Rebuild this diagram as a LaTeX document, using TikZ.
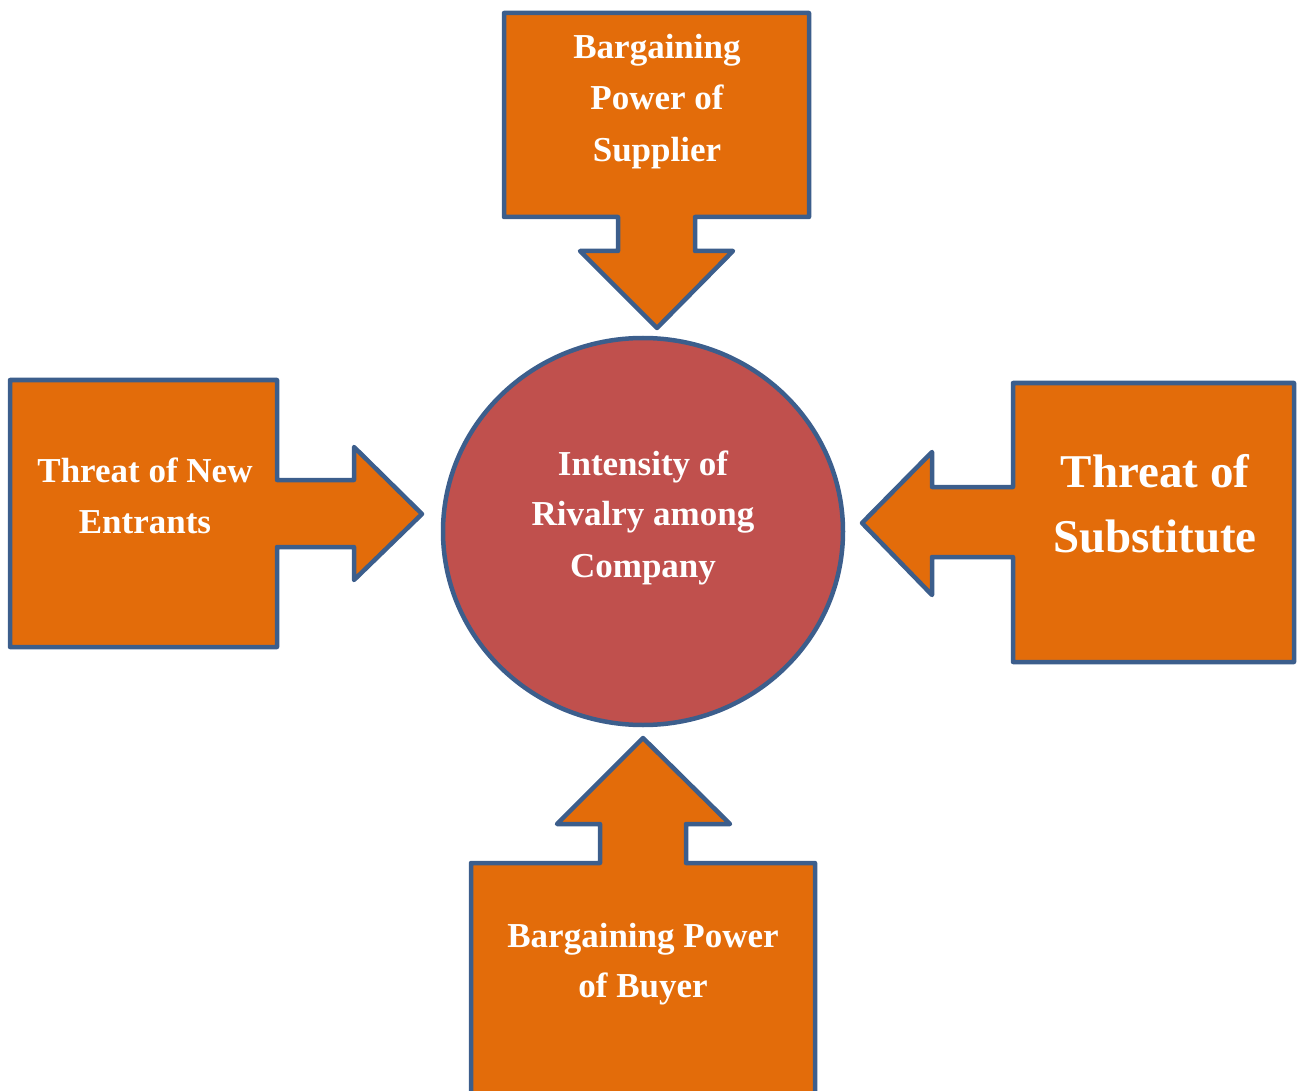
\documentclass[tikz,border=0pt]{standalone}
\usepackage{fontspec}
\setmainfont{Liberation Serif}
\usetikzlibrary{shapes.geometric}
\definecolor{boxorange}{RGB}{227,108,10}
\definecolor{edgeblue}{RGB}{60,94,140}
\definecolor{hubred}{RGB}{192,80,77}
\tikzset{
  force/.style={fill=boxorange, draw=edgeblue, line width=4.5pt, line join=round},
  hub/.style={ellipse, fill=hubred, draw=edgeblue, line width=4.5pt, minimum width=400pt, minimum height=387pt, inner sep=0pt},
  lbl/.style={text=white, anchor=base, inner sep=0pt, font=\bfseries\fontsize{35}{42}\selectfont},
  biglbl/.style={text=white, anchor=base, inner sep=0pt, font=\bfseries\fontsize{47}{56}\selectfont}
}
\begin{document}
\begin{tikzpicture}[x=1pt,y=-1pt]
\useasboundingbox (0,0) rectangle (1299,1091);
% top: supplier
\draw[force] (504,13) -- (809,13) -- (809,217) -- (695,217) -- (695,251) -- (733,251) -- (657,328) -- (580,251) -- (618,251) -- (618,217) -- (504,217) -- cycle;
% left: new entrants
\draw[force] (10,380) -- (277,380) -- (277,480) -- (354,480) -- (354,447) -- (422,514) -- (354,580) -- (354,547) -- (277,547) -- (277,647) -- (10,647) -- cycle;
% right: substitute
\draw[force] (1013,383) -- (1294,383) -- (1294,662) -- (1013,662) -- (1013,557) -- (932,557) -- (932,595) -- (862,523) -- (932,452) -- (932,487) -- (1013,487) -- cycle;
% bottom: buyer
\draw[force] (471,1110) -- (471,863) -- (600,863) -- (600,824) -- (557,824) -- (643,738) -- (730,824) -- (686,824) -- (686,863) -- (815,863) -- (815,1110) -- cycle;
% hub
\node[hub] (hub) at (643,531.5) {};
% labels
\node[lbl] (s1) at (657,59) {Bargaining};
\node[lbl] (s2) at (657,110) {Power of};
\node[lbl] (s3) at (657,162) {Supplier};
\node[lbl] (n1) at (145,482) {Threat of New};
\node[lbl] (n2) at (145,533) {Entrants};
\node[biglbl] (u1) at (1155,487) {Threat of};
\node[biglbl] (u2) at (1155,552) {Substitute};
\node[lbl] (b1) at (643,947) {Bargaining Power};
\node[lbl] (b2) at (643,997) {of Buyer};
\node[lbl] (h1) at (643,475) {Intensity of};
\node[lbl] (h2) at (643,525) {Rivalry among};
\node[lbl] (h3) at (643,577) {Company};
\end{tikzpicture}
\end{document}
